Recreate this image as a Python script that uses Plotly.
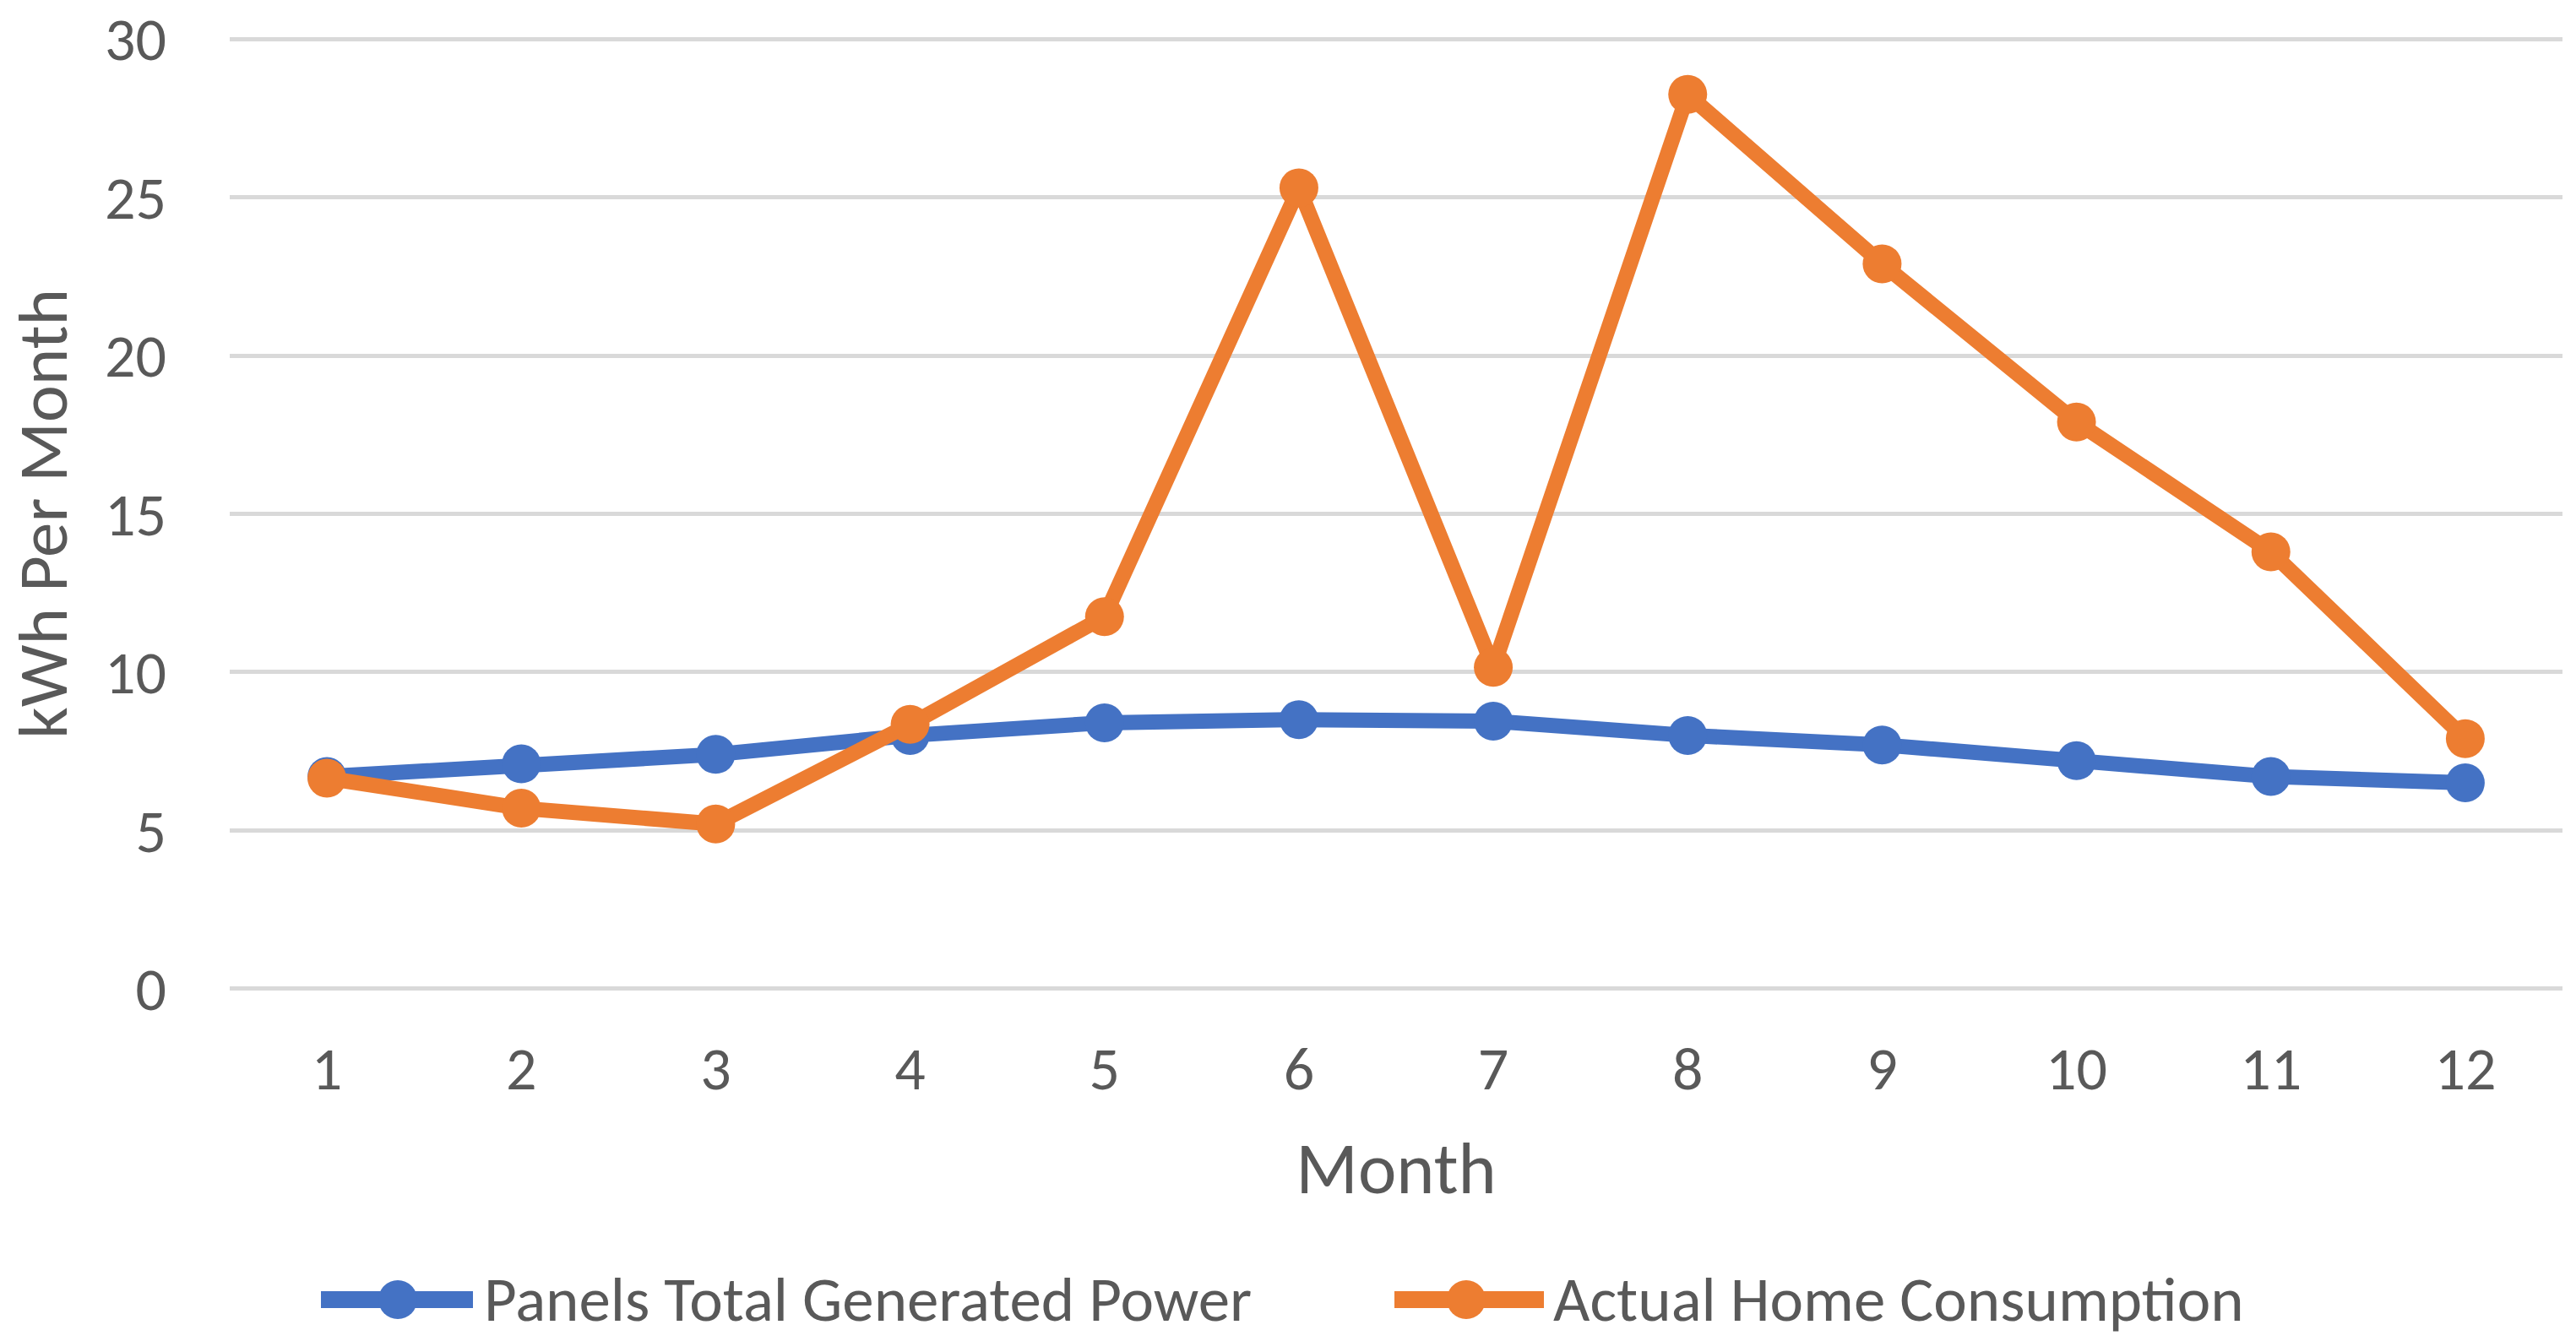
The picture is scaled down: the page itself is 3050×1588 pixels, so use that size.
import plotly.graph_objects as go

months = list(range(1, 13))
generated = [6.7, 7.1, 7.4, 8.0, 8.4, 8.5, 8.45, 8.0, 7.7, 7.2, 6.7, 6.5]
consumption = [6.65, 5.7, 5.2, 8.35, 11.75, 25.3, 10.15, 28.25, 22.9, 17.9, 13.8, 7.9]
series_names = ["Panels Total Generated Power", "Actual Home Consumption"]
y_ticks = [0, 5, 10, 15, 20, 25, 30]

BLUE = "#4472C4"
ORANGE = "#ED7D31"
TXT = "#595959"
FONT = "Carlito, Calibri, Lato, sans-serif"

W, H = 3050, 1588
ML, MR, MT, MB = 272, 16, 44, 415
PW, PH = W - ML - MR, H - MT - MB

fig = go.Figure()
for name, vals, col in [(series_names[0], generated, BLUE), (series_names[1], consumption, ORANGE)]:
    fig.add_trace(go.Scatter(
        x=months, y=vals, name=name, mode="lines+markers",
        line=dict(color=col, width=18),
        marker=dict(color=col, size=46),
        cliponaxis=False, showlegend=False,
    ))

fig.update_layout(
    width=W, height=H,
    margin=dict(l=ML, r=MR, t=MT, b=MB, autoexpand=False),
    paper_bgcolor="white", plot_bgcolor="white",
    font=dict(family=FONT, color=TXT, size=72),
    showlegend=False,
)
fig.update_xaxes(
    range=[0.5, 12.5], tickvals=months, ticktext=[str(m) for m in months],
    showgrid=False, zeroline=False, showline=False, automargin=False,
    tickfont=dict(size=72, color=TXT), ticklabelstandoff=44,
    title=dict(text="Month", font=dict(size=86, color=TXT), standoff=44),
)
fig.update_yaxes(
    range=[-0.06, 30.06], tickvals=y_ticks,
    showgrid=True, gridcolor="#D9D9D9", gridwidth=5,
    zeroline=False, showline=False, automargin=False,
    tickfont=dict(size=72, color=TXT), ticklabelstandoff=74,
    title=dict(text="kWh Per Month", font=dict(size=83, color=TXT), standoff=38),
)

# custom legend (decoration)
def px_x(px):
    return (px - ML) / PW

def px_y(py):
    return (MT + PH - py) / PH

leg_y = 1539
entries = [(series_names[0], BLUE, 380, 560, 471, 571), (series_names[1], ORANGE, 1651, 1828, 1736, 1837)]
for name, col, x0, x1, xc, xt in entries:
    fig.add_shape(type="line", xref="paper", yref="paper",
                  x0=px_x(x0), x1=px_x(x1), y0=px_y(leg_y), y1=px_y(leg_y),
                  line=dict(color=col, width=20))
    fig.add_shape(type="circle", xref="paper", yref="paper",
                  xsizemode="pixel", ysizemode="pixel",
                  xanchor=px_x(xc), yanchor=px_y(leg_y),
                  x0=-23, x1=23, y0=-23, y1=23,
                  fillcolor=col, line=dict(width=0))
    fig.add_annotation(xref="paper", yref="paper", x=px_x(xt), y=px_y(leg_y),
                       xanchor="left", yanchor="middle", text=name, showarrow=False,
                       font=dict(size=75, color=TXT, family=FONT))

fig.write_html("out.html", config={"displayModeBar": False},
               post_script="document.body.style.margin='0';")
